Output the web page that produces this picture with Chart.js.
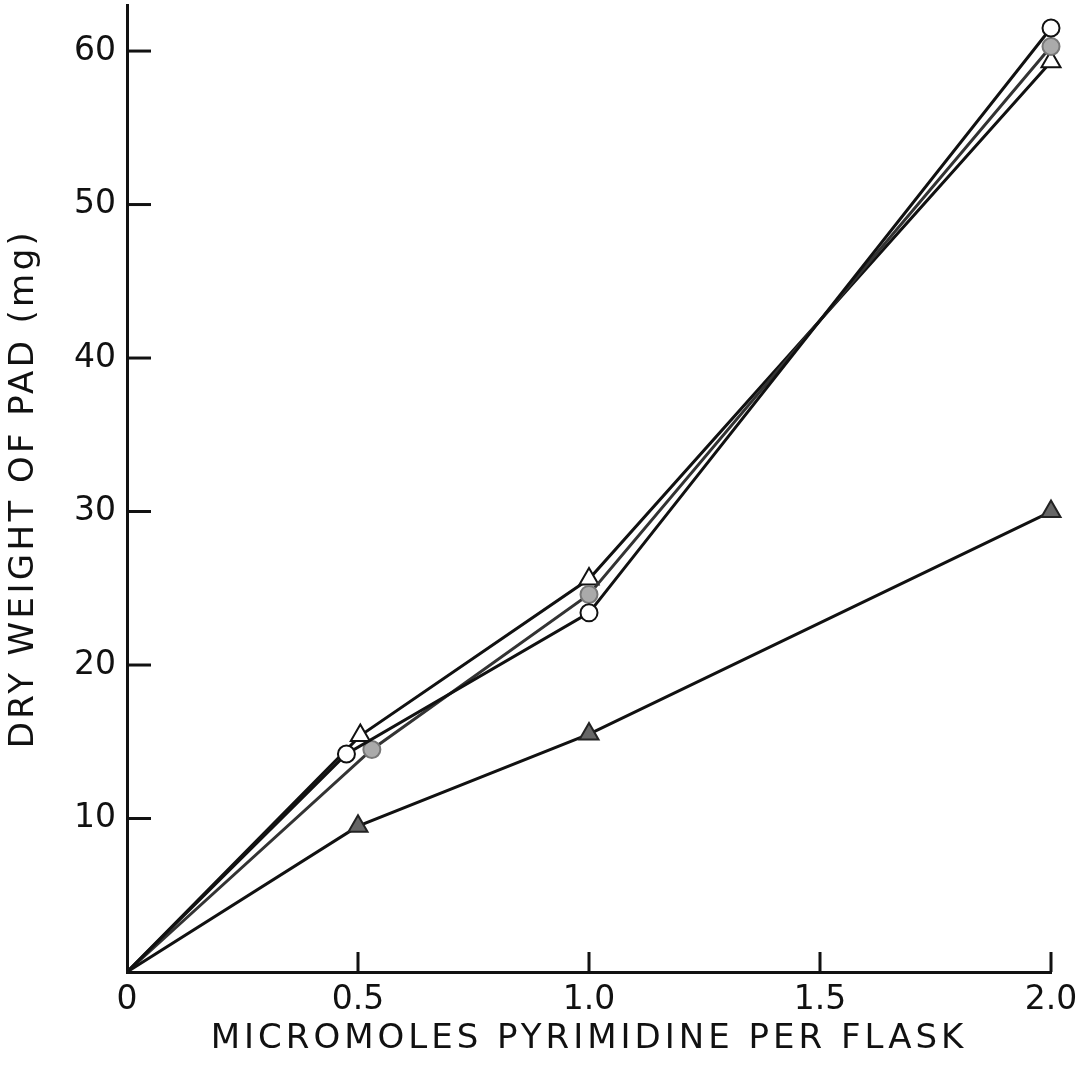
<!DOCTYPE html>
<html>
<head>
<meta charset="utf-8">
<script src="https://cdn.jsdelivr.net/npm/chart.js@4.4.0/dist/chart.umd.min.js"></script>
<style>
  html, body { margin: 0; padding: 0; background: #fff; }
  #wrap { width: 1085px; height: 1069px; }
</style>
</head>
<body>
<div id="wrap"><canvas id="chart" width="1085" height="1069"></canvas></div>
<script>
// values
const xTicks = [0, 0.5, 1.0, 1.5, 2.0];
const yTicks = [10, 20, 30, 40, 50, 60];

const openCircleX = [0, 0.475, 1.0, 2.0];
const openCircleY = [0, 14.2, 23.4, 61.5];

const grayCircleX = [0, 0.53, 1.0, 2.0];
const grayCircleY = [0, 14.5, 24.6, 60.3];

const openTriX = [0, 0.505, 1.0, 2.0];
const openTriY = [0, 15.4, 25.6, 59.3];

const darkTriX = [0, 0.5, 1.0, 2.0];
const darkTriY = [0, 9.5, 15.5, 30.0];

const FONT = "'DejaVu Sans', sans-serif";

function pts(xs, ys) {
  return xs.map((x, i) => ({ x: x, y: ys[i] }));
}

function series(xs, ys, style, fill, border, line, radius) {
  return {
    data: pts(xs, ys),
    pointStyle: style,
    pointBackgroundColor: fill,
    pointBorderColor: border,
    pointBorderWidth: 2,
    pointRadius: xs.map((x) => (x === 0 ? 0 : radius)),
    borderColor: line,
    borderWidth: 3,
    tension: 0,
    fill: false,
    clip: false,
  };
}

// inward tick marks, like the original plate
const innerTicks = {
  id: "innerTicks",
  afterDraw(chart) {
    const { ctx, chartArea, scales } = chart;
    ctx.save();
    ctx.strokeStyle = "#111";
    ctx.lineWidth = 3;
    yTicks.forEach((v) => {
      const py = scales.y.getPixelForValue(v);
      ctx.beginPath();
      ctx.moveTo(chartArea.left, py);
      ctx.lineTo(chartArea.left + 24, py);
      ctx.stroke();
    });
    xTicks.slice(1).forEach((v) => {
      const px = scales.x.getPixelForValue(v);
      ctx.beginPath();
      ctx.moveTo(px, chartArea.bottom);
      ctx.lineTo(px, chartArea.bottom - 20);
      ctx.stroke();
    });
    ctx.restore();
  },
};

// the lettering on the plate is widely spaced: only the axis titles
const spacedTitles = {
  id: "spacedTitles",
  beforeDraw(chart) {
    Object.values(chart.scales).forEach((scale) => {
      if (scale._spaced) return;
      const orig = scale.drawTitle;
      const gap = scale.axis === "x" ? "4px" : "3.4px";
      scale.drawTitle = function () {
        const ctx = this.ctx;
        const prev = ctx.letterSpacing;
        ctx.letterSpacing = gap;
        orig.apply(this, arguments);
        ctx.letterSpacing = prev || "0px";
      };
      scale._spaced = true;
    });
  },
};

new Chart(document.getElementById("chart"), {
  type: "line",
  data: {
    datasets: [
      series(darkTriX, darkTriY, "triangle", "#666", "#222", "#111", 11),
      series(openCircleX, openCircleY, "circle", "#fff", "#111", "#111", 8.5),
      series(grayCircleX, grayCircleY, "circle", "#aaa", "#777", "#333", 8.5),
      series(openTriX, openTriY, "triangle", "#fff", "#111", "#111", 11),
    ],
  },
  options: {
    responsive: false,
    animation: false,
    layout: { autoPadding: false, padding: { top: 5, right: 34, left: 0, bottom: 0 } },
    plugins: { legend: { display: false }, tooltip: { enabled: false } },
    elements: { point: { hitRadius: 0 } },
    scales: {
      x: {
        type: "linear",
        min: 0,
        max: 2.0,
        afterBuildTicks: (axis) => {
          axis.ticks = xTicks.map((v) => ({ value: v }));
        },
        afterFit: (axis) => {
          axis.height = 97;
          axis.paddingLeft = 0;
          axis.paddingRight = 0;
        },
        grid: { display: false, drawTicks: false },
        border: { display: true, color: "#111", width: 3 },
        ticks: {
          color: "#111",
          padding: 9,
          maxRotation: 0,
          font: { family: FONT, size: 33 },
          callback: (v) => (v === 0 ? "0" : v.toFixed(1)),
        },
        title: {
          display: true,
          text: "MICROMOLES PYRIMIDINE PER FLASK",
          color: "#111",
          font: { family: FONT, size: 34 },
          padding: { top: 4, bottom: 9 },
        },
      },
      y: {
        type: "linear",
        min: 0,
        max: 63,
        afterBuildTicks: (axis) => {
          axis.ticks = yTicks.map((v) => ({ value: v }));
        },
        afterFit: (axis) => {
          axis.width = 127;
          axis.paddingTop = 0;
          axis.paddingBottom = 0;
        },
        grid: { display: false, drawTicks: false },
        border: { display: true, color: "#111", width: 3 },
        ticks: {
          color: "#111",
          padding: 11,
          font: { family: FONT, size: 33 },
        },
        title: {
          display: true,
          text: "DRY WEIGHT OF PAD (mg)",
          color: "#111",
          font: { family: FONT, size: 34 },
          padding: { bottom: 4 },
        },
      },
    },
  },
  plugins: [innerTicks, spacedTitles],
});
</script>
</body>
</html>
